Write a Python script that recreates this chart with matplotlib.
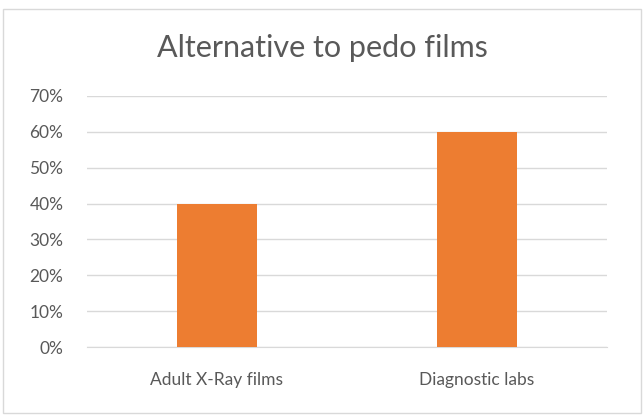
import matplotlib
matplotlib.use('Agg')
import matplotlib.pyplot as plt
from matplotlib.patches import Rectangle
from matplotlib.ticker import PercentFormatter

categories = ['Adult X-Ray films', 'Diagnostic labs']
values = [40, 60]
yticks = [0, 10, 20, 30, 40, 50, 60, 70]

plt.rcParams['font.family'] = ['Lato', 'DejaVu Sans']

fig = plt.figure(figsize=(6.44, 4.16), dpi=100)
fig.patch.set_facecolor('white')

# outer chart frame
fig.patches.append(Rectangle((3 / 644, 3 / 416), 638 / 644, 404 / 416,
                             transform=fig.transFigure, fill=False,
                             edgecolor='#d9d9d9', linewidth=1))

ax = fig.add_axes([87 / 644, 69 / 416, 520 / 644, 251 / 416])
ax.bar(range(len(categories)), values, width=0.31, color='#ed7d31', zorder=3)

ax.set_xlim(-0.5, len(categories) - 0.5)
ax.set_ylim(0, 70)
ax.set_yticks(yticks)
ax.yaxis.set_major_formatter(PercentFormatter(decimals=0))
ax.set_xticks(range(len(categories)))
ax.set_xticklabels(categories)

ax.grid(axis='y', color='#d9d9d9', linewidth=1, zorder=0)
for s in ['top', 'right', 'left']:
    ax.spines[s].set_visible(False)
ax.spines['bottom'].set_color('#d9d9d9')
ax.tick_params(axis='both', length=0, colors='#595959', labelsize=12.5)
ax.tick_params(axis='y', pad=17)
ax.tick_params(axis='x', pad=18)

fig.text(0.5, 1 - 48 / 416, 'Alternative to pedo films', ha='center', va='center',
         fontsize=22, color='#595959')

fig.savefig('out.png', dpi=100)
